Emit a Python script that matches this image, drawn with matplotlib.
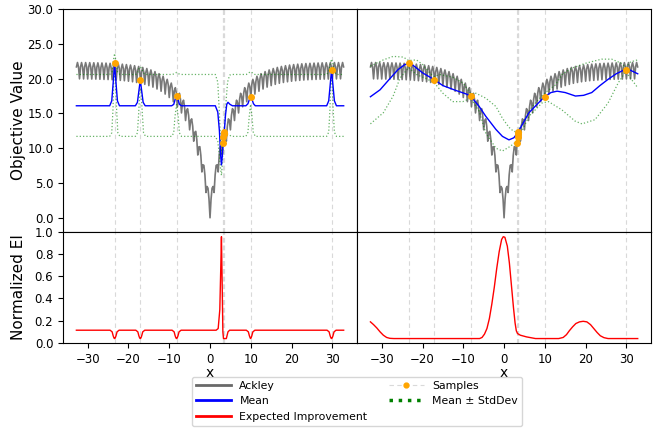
import numpy as np
import matplotlib
matplotlib.use('Agg')
import matplotlib.pyplot as plt
from matplotlib.lines import Line2D
from matplotlib.ticker import FormatStrFormatter

# Ackley values at |x| = 0, 0.5, 1.0, ..., 32.5 (troughs at integers, peaks at halves)
ACKLEY_HALF = [0.0, 4.25, 3.63, 7.53, 6.59, 10.22, 9.02, 12.42, 11.01, 14.22,
               12.64, 15.69, 13.98, 16.90, 15.07, 17.89, 15.96, 18.70, 16.69, 19.36,
               17.29, 19.90, 17.78, 20.34, 18.19, 20.71, 18.51, 21.01, 18.78, 21.25,
               19.00, 21.45, 19.18, 21.61, 19.33, 21.75, 19.45, 21.86, 19.55, 21.95,
               19.63, 22.02, 19.70, 22.08, 19.75, 22.13, 19.80, 22.17, 19.84, 22.20,
               19.87, 22.23, 19.89, 22.25, 19.91, 22.27, 19.93, 22.28, 19.94, 22.30,
               19.95, 22.31, 19.96, 22.31, 19.97, 22.32]
# Ackley values at |x| = 0.25, 0.75, ..., 32.75
ACKLEY_QUARTER = [2.69, 4.50, 6.14, 7.62, 8.97, 10.18, 11.28, 12.27, 13.17, 13.98,
                  14.72, 15.39, 15.99, 16.53, 17.03, 17.47, 17.88, 18.24, 18.57, 18.87,
                  19.14, 19.39, 19.61, 19.81, 19.99, 20.16, 20.30, 20.44, 20.56, 20.67,
                  20.77, 20.86, 20.94, 21.02, 21.08, 21.14, 21.20, 21.25, 21.29, 21.33,
                  21.37, 21.40, 21.43, 21.46, 21.48, 21.51, 21.53, 21.54, 21.56, 21.58,
                  21.59, 21.60, 21.61, 21.62, 21.63, 21.64, 21.65, 21.65, 21.66, 21.67,
                  21.67, 21.68, 21.68, 21.68, 21.69, 21.69]
ACKLEY_STEP = 0.5

# evaluated samples
SAMPLE_X = [-23.4, -17.1, -8.2, 3.2, 3.3, 3.4, 3.5, 9.95, 29.8]
SAMPLE_Y = [22.2, 19.85, 17.5, 10.8, 11.65, 12.1, 12.4, 17.4, 21.3]

# left column: short length scale GP
L_MEAN_X = [-32.77, -24.6, -24.1, -23.8, -23.4, -23.0, -22.7, -22.2,
            -18.3, -17.8, -17.45, -17.1, -16.75, -16.4, -15.9,
            -9.4, -8.9, -8.55, -8.2, -7.85, -7.5, -7.0,
            1.3, 1.9, 2.3, 2.6, 2.8, 3.0, 3.2, 3.35, 3.5, 3.8, 4.1, 4.4, 4.9, 5.5,
            8.8, 9.3, 9.65, 9.95, 10.3, 10.65, 11.1,
            28.6, 29.1, 29.45, 29.8, 30.15, 30.5, 31.0, 32.77]
L_MEAN_Y = [16.1, 16.1, 16.8, 19.0, 22.1, 19.0, 16.8, 16.1,
            16.1, 16.6, 18.2, 19.8, 18.2, 16.6, 16.1,
            16.1, 16.3, 17.0, 17.4, 17.0, 16.3, 16.1,
            16.1, 15.2, 12.5, 9.0, 7.6, 8.8, 10.8, 11.7, 12.4, 14.8, 16.3, 16.6, 16.3, 16.1,
            16.1, 16.4, 17.0, 17.4, 17.0, 16.4, 16.1,
            16.1, 16.8, 19.0, 21.3, 19.0, 16.8, 16.1, 16.1]

L_UP_X = [-32.77, -24.6, -24.0, -23.7, -23.4, -23.1, -22.7, -22.1,
          -18.2, -17.7, -17.4, -17.1, -16.8, -16.4, -15.9,
          -9.3, -8.7, -8.2, -7.7, -7.1,
          1.3, 1.9, 2.3, 2.6, 2.8, 3.0, 3.2, 3.4, 3.6, 3.9, 4.3, 4.8, 5.3,
          8.9, 9.4, 9.95, 10.5, 11.0,
          28.6, 29.1, 29.5, 29.8, 30.1, 30.5, 31.0, 32.77]
L_UP_Y = [20.6, 20.6, 21.0, 22.6, 23.6, 22.6, 21.0, 20.6,
          20.6, 20.9, 21.5, 21.7, 21.5, 20.9, 20.6,
          20.6, 20.7, 20.9, 20.7, 20.6,
          20.6, 19.5, 15.0, 10.5, 9.0, 10.0, 11.3, 12.3, 13.5, 16.5, 19.5, 20.5, 20.6,
          20.6, 20.8, 21.0, 20.8, 20.6,
          20.6, 21.0, 22.2, 22.8, 22.2, 21.0, 20.6, 20.6]

L_LOW_X = [-32.77, -24.6, -24.1, -23.8, -23.6, -23.4, -23.2, -22.9, -22.6, -22.1,
           -18.3, -17.8, -17.5, -17.25, -17.1, -16.9, -16.6, -16.3, -15.8,
           -9.4, -8.9, -8.6, -8.2, -7.8, -7.5, -7.0,
           1.3, 1.9, 2.3, 2.6, 2.8, 3.0, 3.2, 3.4, 3.6, 4.4, 5.3,
           8.8, 9.3, 9.6, 9.95, 10.3, 10.6, 11.1,
           28.6, 29.1, 29.4, 29.6, 29.8, 30.0, 30.2, 30.5, 31.0, 32.77]
L_LOW_Y = [11.7, 11.7, 12.2, 15.5, 19.8, 21.0, 19.8, 15.5, 12.2, 11.7,
           11.7, 12.2, 15.0, 18.0, 18.6, 18.0, 15.0, 12.2, 11.7,
           11.7, 12.2, 14.5, 16.3, 14.5, 12.2, 11.7,
           11.7, 11.0, 9.0, 7.0, 6.1, 7.6, 10.3, 11.3, 11.6, 12.0, 11.7,
           11.7, 12.3, 14.5, 16.3, 14.5, 12.3, 11.7,
           11.7, 12.3, 15.5, 19.0, 20.2, 19.0, 15.5, 12.3, 11.7, 11.7]

L_EI_X = [-32.77, -24.5, -24.0, -23.75, -23.55, -23.4, -23.25, -23.05, -22.8, -22.3,
          -18.2, -17.7, -17.45, -17.25, -17.1, -16.95, -16.75, -16.5, -16.0,
          -9.3, -8.8, -8.55, -8.35, -8.2, -8.05, -7.85, -7.6, -7.1,
          1.5, 2.0, 2.4, 2.65, 2.8, 2.95, 3.15, 3.3, 4.0, 4.4, 4.8,
          8.9, 9.4, 9.65, 9.85, 9.95, 10.05, 10.25, 10.5, 11.0,
          28.7, 29.2, 29.45, 29.65, 29.8, 29.95, 30.15, 30.4, 30.9, 32.77]
L_EI_Y = [0.115, 0.115, 0.10, 0.065, 0.045, 0.04, 0.045, 0.065, 0.10, 0.115,
          0.115, 0.10, 0.065, 0.045, 0.04, 0.045, 0.065, 0.10, 0.115,
          0.115, 0.10, 0.065, 0.045, 0.04, 0.045, 0.065, 0.10, 0.115,
          0.115, 0.13, 0.30, 0.70, 0.955, 0.60, 0.10, 0.04, 0.04, 0.10, 0.115,
          0.115, 0.10, 0.065, 0.045, 0.04, 0.045, 0.065, 0.10, 0.115,
          0.115, 0.10, 0.065, 0.045, 0.04, 0.045, 0.065, 0.10, 0.115, 0.115]

# right column: long length scale GP
R_MEAN_X = [-32.77, -30.4, -28.0, -26.0, -24.4, -23.4, -22.3, -19.9, -17.1, -15.0,
            -11.8, -9.3, -8.2, -6.1, -4.5, -2.0, -0.4, 1.2, 2.4, 3.3,
            6.1, 9.9, 11.5, 13.0, 15.0, 17.5, 19.5, 21.5, 23.5, 25.5,
            27.5, 29.8, 31.0, 32.77]
R_MEAN_Y = [17.4, 18.4, 20.0, 21.3, 22.0, 22.2, 21.9, 20.8, 19.85, 19.0,
            18.3, 17.8, 17.5, 16.0, 14.6, 12.7, 11.7, 11.2, 11.5, 12.2,
            15.1, 17.4, 18.0, 18.2, 18.0, 17.5, 17.6, 18.0, 19.0, 19.9,
            20.7, 21.35, 21.2, 20.7]

R_UP_X = [-32.77, -29.6, -27.2, -24.7, -23.4, -21.5, -19.9, -18.2, -17.1, -15.8,
          -12.6, -10.1, -8.2, -6.9, -4.5, -2.0, -0.4, 1.2, 2.4, 3.3,
          4.5, 6.9, 9.9, 12.6, 14.2, 16.6, 19.9, 23.9, 26.4, 28.8,
          29.8, 31.0, 32.77]
R_UP_Y = [21.8, 22.7, 23.2, 23.1, 22.6, 22.7, 22.0, 20.8, 20.3, 20.6,
          20.2, 19.4, 17.8, 17.9, 17.2, 16.0, 14.3, 13.0, 12.4, 12.4,
          13.6, 16.0, 17.9, 19.1, 20.6, 21.5, 22.2, 22.8, 22.8, 22.2,
          21.6, 22.4, 22.7]

R_LOW_X = [-32.77, -29.6, -27.2, -25.5, -23.4, -21.5, -19.1, -17.1, -15.0, -12.6,
           -10.1, -8.2, -6.1, -4.5, -2.0, -0.4, 1.6, 3.3, 6.1, 9.3,
           10.9, 14.2, 17.4, 19.1, 22.3, 25.5, 28.0, 29.8, 32.77]
R_LOW_Y = [13.5, 15.1, 17.5, 20.1, 21.6, 20.6, 20.0, 19.4, 17.9, 16.7,
           16.7, 17.2, 15.3, 12.2, 10.0, 9.6, 10.3, 11.1, 14.6, 16.5,
           16.7, 15.5, 13.9, 13.5, 14.1, 16.5, 19.4, 21.0, 18.7]

R_EI_X = [-32.77, -32.0, -31.2, -30.4, -29.6, -28.8, -28.0, -27.0,
          -6.0, -5.4, -4.8, -4.2, -3.6, -3.0, -2.4, -1.8, -1.2, -0.6, -0.2,
          0.2, 0.8, 1.3, 1.8, 2.3, 2.7, 3.0, 3.3, 4.0, 5.5, 7.7,
          13.4, 14.5, 15.3, 16.0, 16.8, 17.6, 18.5, 19.4, 20.3, 21.2,
          22.0, 22.8, 23.6, 24.5, 25.5, 32.77]
R_EI_Y = [0.19, 0.165, 0.135, 0.10, 0.07, 0.05, 0.042, 0.04,
          0.04, 0.05, 0.08, 0.13, 0.22, 0.35, 0.50, 0.67, 0.82, 0.93, 0.955,
          0.95, 0.87, 0.72, 0.52, 0.32, 0.18, 0.11, 0.085, 0.07, 0.055, 0.04,
          0.04, 0.05, 0.075, 0.11, 0.145, 0.175, 0.19, 0.195, 0.19, 0.165,
          0.13, 0.095, 0.065, 0.048, 0.04, 0.04]

ACKLEY_COLOR = 'dimgray'
SAMPLE_LINE_COLOR = '#d9d9d9'
SAMPLE_DASH = (0, (4, 3))


def ackley_curve():
	n = len(ACKLEY_HALF)
	half_x = np.empty(2 * n)
	half_y = np.empty(2 * n)
	half_x[0::2] = np.arange(n) * ACKLEY_STEP
	half_x[1::2] = np.arange(n) * ACKLEY_STEP + ACKLEY_STEP / 2
	half_y[0::2] = ACKLEY_HALF
	half_y[1::2] = ACKLEY_QUARTER
	x = np.concatenate((-half_x[::-1], half_x[1:]))
	y = np.concatenate((half_y[::-1], half_y[1:]))
	return x, y


def draw_top(ax, mean, up, low):
	ack_x, ack_y = ackley_curve()
	for sx in SAMPLE_X:
		ax.axvline(sx, color=SAMPLE_LINE_COLOR, ls=SAMPLE_DASH, lw=0.8, zorder=0)
	ax.plot(ack_x, ack_y, color=ACKLEY_COLOR, lw=1.2, alpha=0.9, zorder=1)
	ax.plot(mean[0], mean[1], color='blue', lw=1.0, zorder=3)
	ax.plot(up[0], up[1], color='green', ls=':', lw=0.9, alpha=0.6, zorder=2)
	ax.plot(low[0], low[1], color='green', ls=':', lw=0.9, alpha=0.6, zorder=2)
	ax.plot(SAMPLE_X, SAMPLE_Y, 'o', color='orange', ms=4, zorder=4)


def draw_bottom(ax, ei):
	for sx in SAMPLE_X:
		ax.axvline(sx, color=SAMPLE_LINE_COLOR, ls=SAMPLE_DASH, lw=0.8, zorder=0)
	ax.plot(ei[0], ei[1], color='red', lw=1.0)
	ax.set_xlabel('x', fontsize=10, labelpad=0)


def plot_data():
	fig, axes = plt.subplots(2, 2, figsize=(6.59, 4.32), dpi=100, sharex=True, sharey='row',
							 gridspec_kw={'height_ratios': [2, 1], 'hspace': 0, 'wspace': 0})
	fig.subplots_adjust(left=0.0956, right=0.988, top=0.979, bottom=0.206)

	draw_top(axes[0, 0], (L_MEAN_X, L_MEAN_Y), (L_UP_X, L_UP_Y), (L_LOW_X, L_LOW_Y))
	draw_top(axes[0, 1], (R_MEAN_X, R_MEAN_Y), (R_UP_X, R_UP_Y), (R_LOW_X, R_LOW_Y))
	draw_bottom(axes[1, 0], (L_EI_X, L_EI_Y))
	draw_bottom(axes[1, 1], (R_EI_X, R_EI_Y))

	axes[0, 0].set_ylim(-2, 30)
	axes[0, 0].set_yticks(np.arange(0, 31, 5))
	axes[0, 0].yaxis.set_major_formatter(FormatStrFormatter('%.1f'))
	axes[1, 0].set_ylim(0, 1)
	axes[1, 0].set_yticks(np.linspace(0, 1, 6))
	axes[1, 0].yaxis.set_major_formatter(FormatStrFormatter('%.1f'))
	axes[1, 0].set_xlim(-36.05, 36.05)
	axes[1, 0].set_xticks(np.arange(-30, 31, 10))
	axes[0, 0].set_ylabel('Objective Value', fontsize=11, labelpad=1)
	axes[1, 0].set_ylabel('Normalized EI', fontsize=11, labelpad=1)
	for ax in axes.flat:
		ax.tick_params(labelsize=8.5)
	for ax in axes[:, 1]:
		ax.tick_params(left=False)
	fig.align_ylabels(axes[:, 0])

	handles = [
		Line2D([], [], color=ACKLEY_COLOR, lw=2),
		Line2D([], [], color='blue', lw=2),
		Line2D([], [], color='red', lw=2),
		Line2D([], [], color=SAMPLE_LINE_COLOR, ls=SAMPLE_DASH, lw=0.8, marker='o',
			   markerfacecolor='orange', markeredgecolor='orange', ms=3.5),
		Line2D([], [], color='green', ls=':', lw=2.5),
	]
	labels = ['Ackley', 'Mean', 'Expected Improvement', 'Samples', 'Mean \u00b1 StdDev']
	fig.legend(handles, labels, loc='upper center', bbox_to_anchor=(0.5418, 0.141), ncol=2,
			   fontsize=7.8, handlelength=3.2, numpoints=1)
	fig.savefig('out.png', dpi=100)


plot_data()
